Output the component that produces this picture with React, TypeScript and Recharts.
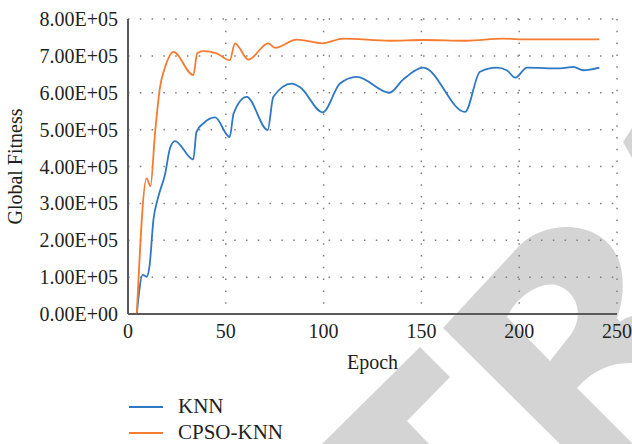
import { LineChart, Line, XAxis, YAxis, CartesianGrid, Legend } from "recharts";

// KNN curve
const knnEpochs = [4.5, 7.5, 9.5, 11, 13, 15.5, 19, 21.5, 24, 33.4, 35, 38.5, 44.5, 52, 54, 60.7, 71.4, 74.3, 83.7, 88, 99.5, 108.4, 117, 133.6, 140.7, 151, 172.3, 180, 188.5, 193.6, 198, 204, 221, 227.7, 232.8, 241];
const knnFitness = [0, 106000, 101000, 130000, 255000, 318000, 380000, 450000, 469000, 419000, 494000, 517000, 533000, 480000, 544000, 589000, 499000, 589000, 625000, 615000, 547000, 625000, 643000, 600000, 636000, 668000, 548000, 657000, 668000, 661000, 641000, 668000, 666000, 670000, 661000, 668000];

// CPSO-KNN curve
const cpsoEpochs = [4.5, 9.5, 11.5, 13.8, 16.4, 19, 23.2, 33.4, 35.4, 38.5, 45.3, 52, 54.7, 61.5, 71.7, 75.2, 86.2, 99.5, 110, 134, 151, 173, 192, 200, 241];
const cpsoFitness = [0, 368000, 347000, 490000, 616000, 670000, 711000, 648000, 707000, 713000, 707000, 688000, 734000, 690000, 734000, 722000, 744000, 734000, 747000, 741000, 743000, 741000, 747000, 745000, 745000];

const seriesNames = ["KNN", "CPSO-KNN"];
const xTicks = [0, 50, 100, 150, 200, 250];
const yTicks = [0, 100000, 200000, 300000, 400000, 500000, 600000, 700000, 800000];

const knnData = knnEpochs.map((epoch, i) => ({ epoch, value: knnFitness[i] }));
const cpsoData = cpsoEpochs.map((epoch, i) => ({ epoch, value: cpsoFitness[i] }));

const font = "'Liberation Serif', 'Times New Roman', serif";
const textColor = "#231f20";

function sci(v: number) {
    const [m, e] = v.toExponential(2).split("e");
    const sign = e[0] === "-" ? "-" : "+";
    const digits = e.replace(/[+-]/, "").padStart(2, "0");
    return `${m}E${sign}${digits}`;
}

function LegendBox({ payload }: any) {
    const items = [...(payload || [])].sort(
        (a: any, b: any) => seriesNames.indexOf(a.value) - seriesNames.indexOf(b.value)
    );
    return (
        <svg width={200} height={54}>
            {items.map((p: any, i: number) => (
                <g key={p.value}>
                    <line x1={9} x2={43} y1={17 + i * 26} y2={17 + i * 26} stroke={p.color} strokeWidth={2} />
                    <text x={58} y={23 + i * 26} fontFamily={font} fontSize={21} fill={textColor}>
                        {p.value}
                    </text>
                </g>
            ))}
        </svg>
    );
}

export default function App() {
    return (
        <div style={{ position: "absolute", left: 0, top: 0, width: 632, height: 444 }}>
            {/* grey watermark behind the chart */}
            <svg width={632} height={444} style={{ position: "absolute", left: 0, top: 0 }}>
                <g fill="#d4d4d4">
                    <path d="M322,444 L420,347 L450,377 L407,421 L429,444 Z" />
                    <path
                        fillRule="evenodd"
                        d="M443,328 L520,245 C545,220 600,218 618,258 C625,275 624,300 617,318 L620,322 Q624,318 632,316 L632,363 Q600,362 577,388 L632,443 L632,444 L560,444 Z M507,317 C518,295 540,282 556,285 C575,290 585,312 572,333 L550,361 Z"
                    />
                    <path d="M632,128 L623,142 L632,158 Z" />
                </g>
            </svg>
            <div style={{ position: "absolute", left: 0, top: 0 }}>
                <LineChart width={632} height={444} margin={{ top: 19, right: 15, left: 0, bottom: 60 }}>
                    <CartesianGrid stroke="#7f7f7f" strokeWidth={1.5} strokeDasharray="1.5 10.3" />
                    <XAxis
                        type="number"
                        dataKey="epoch"
                        domain={[0, 250]}
                        ticks={xTicks}
                        height={70}
                        tickSize={0}
                        tickMargin={10}
                        tickLine={false}
                        axisLine={{ stroke: "#595959", strokeWidth: 2 }}
                        tick={{ fill: textColor, fontFamily: font, fontSize: 20 }}
                        label={{ value: "Epoch", position: "insideBottom", offset: 15, fill: textColor, fontFamily: font, fontSize: 20 }}
                        allowDataOverflow
                    />
                    <YAxis
                        type="number"
                        domain={[0, 800000]}
                        ticks={yTicks}
                        width={128}
                        tickSize={0}
                        tickMargin={10}
                        tickLine={false}
                        tickFormatter={sci}
                        axisLine={{ stroke: "#595959", strokeWidth: 2 }}
                        tick={{ fill: textColor, fontFamily: font, fontSize: 20 }}
                        label={{
                            value: "Global Fitness",
                            angle: -90,
                            position: "insideLeft",
                            offset: 15,
                            fill: textColor,
                            fontFamily: font,
                            fontSize: 20,
                            style: { textAnchor: "middle" }
                        }}
                    />
                    <Line data={knnData} dataKey="value" name="KNN" type="monotone" stroke="#2f78c4" strokeWidth={1.8} dot={false} isAnimationActive={false} />
                    <Line data={cpsoData} dataKey="value" name="CPSO-KNN" type="monotone" stroke="#f47b30" strokeWidth={1.8} dot={false} isAnimationActive={false} />
                    <Legend
                        layout="horizontal"
                        align="center"
                        verticalAlign="middle"
                        content={<LegendBox />}
                        wrapperStyle={{ left: 120, top: 390, width: 200, height: 54 }}
                    />
                </LineChart>
            </div>
        </div>
    );
}
